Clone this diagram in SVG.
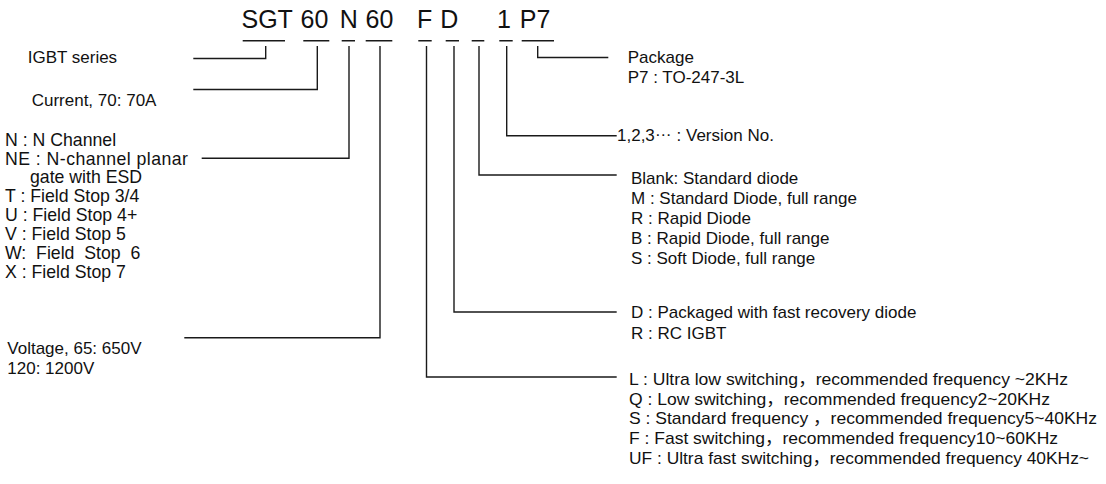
<svg xmlns="http://www.w3.org/2000/svg" width="1106" height="484" viewBox="0 0 1106 484">
<style>
.code{font-family:"Liberation Sans",Arial,sans-serif;font-size:25px;fill:#111}
.t{font-family:"Liberation Sans","Noto Sans CJK SC",sans-serif;font-size:17px;fill:#111;white-space:pre}
.tl{font-family:"Liberation Sans","Noto Sans CJK SC",sans-serif;font-size:17.7px;fill:#111;white-space:pre}
.ul{stroke:#1a1a1a;stroke-width:1.5;fill:none}
.conn{stroke:#1a1a1a;stroke-width:1.4;fill:none}
</style>
<rect width="1106" height="484" fill="#fff"/>
<g id="code">
<text class="code" x="241.5" y="28.3">SGT</text>
<text class="code" x="300.5" y="28.3">60</text>
<text class="code" x="339.8" y="28.3">N</text>
<text class="code" x="365.5" y="28.3">60</text>
<text class="code" x="417" y="28.3">F</text>
<text class="code" x="440.3" y="28.3">D</text>
<text class="code" x="497" y="28.3">1</text>
<text class="code" x="519.8" y="28.3">P7</text>
<path class="ul" d="M242.7 40.7H285M303.3 40.7H329.3M341.7 40.7H355M365.7 40.7H392.3M418.3 40.7H431.7M445.7 40.7H459M471.7 40.7H484.3M499.3 40.7H512.7M521.7 40.7H554"/>
</g>
<g id="connectors">
<polyline class="conn" points="265.7,46 265.7,58.5 193.3,58.5"/>
<polyline class="conn" points="317.3,46 317.3,89.5 193.3,89.5"/>
<polyline class="conn" points="349,46 349,158.3 201.7,158.3"/>
<polyline class="conn" points="380,46 380,337.7 184.3,337.7"/>
<polyline class="conn" points="426.5,46 426.5,377 616.7,377"/>
<polyline class="conn" points="454,46 454,312 616.7,312"/>
<polyline class="conn" points="479,46 479,175 616.7,175"/>
<polyline class="conn" points="506.7,46 506.7,135.7 616.7,135.7"/>
<polyline class="conn" points="537.7,46 537.7,57.5 608.3,57.5"/>
</g>
<g id="series">
<text class="t" x="27.7" y="62.7">IGBT series</text>
</g>
<g id="current">
<text class="t" x="31.7" y="106">Current, 70: 70A</text>
</g>
<g id="channel">
<text class="tl" x="5" y="146">N : N Channel</text>
<text class="tl" x="5" y="164.7" textLength="183" lengthAdjust="spacing">NE : N-channel planar</text>
<text class="tl" x="30" y="183.3">gate with ESD</text>
<text class="tl" x="5" y="202.3">T : Field Stop 3/4</text>
<text class="tl" x="5" y="221.3">U : Field Stop 4+</text>
<text class="tl" x="5" y="240">V : Field Stop 5</text>
<text class="tl" x="5" y="258.7">W:  Field  Stop  6</text>
<text class="tl" x="5" y="277.5">X : Field Stop 7</text>
</g>
<g id="voltage">
<text class="t" x="7.3" y="354.3">Voltage, 65: 650V</text>
<text class="t" x="7.3" y="374">120: 1200V</text>
</g>
<g id="package">
<text class="t" x="627.7" y="63.3">Package</text>
<text class="t" x="627.7" y="82.7">P7 : TO-247-3L</text>
</g>
<g id="version">
<text class="t" x="617" y="141.3">1,2,3<tspan dy="-5">…</tspan><tspan dy="5"> : Version No.</tspan></text>
</g>
<g id="diode">
<text class="t" x="631" y="183.5">Blank: Standard diode</text>
<text class="t" x="631" y="203.5">M : Standard Diode, full range</text>
<text class="t" x="631" y="223.5">R : Rapid Diode</text>
<text class="t" x="631" y="243.5">B : Rapid Diode, full range</text>
<text class="t" x="631" y="263.5">S : Soft Diode, full range</text>
</g>
<g id="package-type">
<text class="t" x="631" y="318">D : Packaged with fast recovery diode</text>
<text class="t" x="631" y="338.7">R : RC IGBT</text>
</g>
<g id="switching">
<text class="t" x="629" y="385" textLength="439" lengthAdjust="spacingAndGlyphs">L : Ultra low switching，recommended frequency ~2KHz</text>
<text class="t" x="629" y="404.7" textLength="421" lengthAdjust="spacingAndGlyphs">Q : Low switching，recommended frequency2~20KHz</text>
<text class="t" x="629" y="424.3" textLength="468" lengthAdjust="spacingAndGlyphs">S : Standard frequency ，recommended frequency5~40KHz</text>
<text class="t" x="629" y="444" textLength="429" lengthAdjust="spacingAndGlyphs">F : Fast switching，recommended frequency10~60KHz</text>
<text class="t" x="629" y="463.7" textLength="460" lengthAdjust="spacingAndGlyphs">UF : Ultra fast switching，recommended frequency 40KHz~</text>
</g>
</svg>
